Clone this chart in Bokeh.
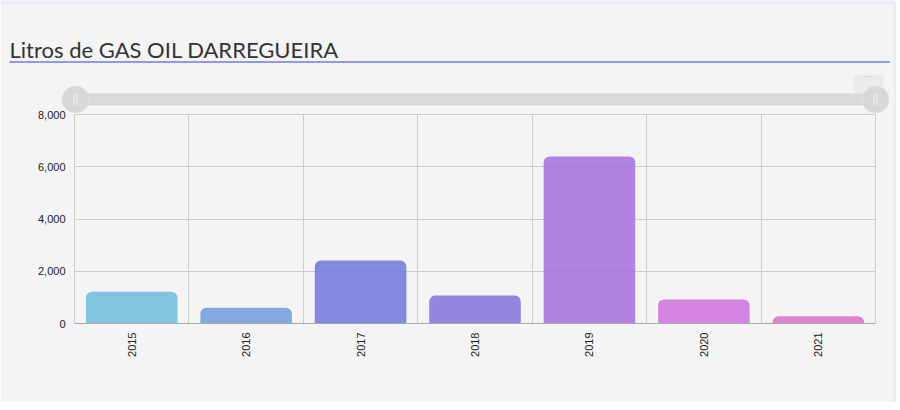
import math
from bokeh.plotting import figure
from bokeh.models import Range1d, FixedTicker, NumeralTickFormatter, ColumnDataSource
from bokeh.core.properties import value
from bokeh.embed import file_html
from bokeh.resources import INLINE

title_text = "Litros de GAS OIL DARREGUEIRA"
years = ["2015", "2016", "2017", "2018", "2019", "2020", "2021"]
litros = [1220, 600, 2410, 1070, 6390, 920, 280]
bar_colors = ["#6ebade", "#709bdc", "#6e76dc", "#8471dc", "#a46fdc", "#cc6fdc", "#dc6fc8"]
y_ticks = [0, 2000, 4000, 6000, 8000]

x_pos = [i + 0.5 for i in range(len(years))]
src = ColumnDataSource(dict(x=x_pos, year=years, litros=litros, color=bar_colors))

BG = "#f4f4f4"
p = figure(width=898, height=402,
           x_range=Range1d(0, len(years)), y_range=Range1d(0, 8000),
           output_backend="svg", toolbar_location=None,
           min_border_left=74, min_border_right=23, min_border_top=114, min_border_bottom=79,
           background_fill_color=BG, border_fill_color=BG,
           outline_line_color="#cccccc")

p.vbar(x="x", top="litros", width=0.8, source=src, fill_color="color", fill_alpha=0.85,
       line_color=None, border_radius=(6, 6, 0, 0))

# axes
p.xaxis.ticker = FixedTicker(ticks=x_pos)
p.xaxis.major_label_overrides = dict(zip(x_pos, years))
p.xaxis.major_label_orientation = math.pi / 2
p.xaxis.major_tick_line_color = None
p.xaxis.minor_tick_line_color = None
p.xaxis.major_tick_out = 0
p.xaxis.major_label_standoff = 9
p.xaxis.axis_line_color = "#aaaaaa"
p.xaxis.major_label_text_font = "Liberation Sans"
p.xaxis.major_label_text_font_size = "11px"
p.xaxis.major_label_text_color = "#222222"

p.yaxis.ticker = FixedTicker(ticks=y_ticks)
p.yaxis.formatter = NumeralTickFormatter(format="0,0")
p.yaxis.major_tick_line_color = None
p.yaxis.minor_tick_line_color = None
p.yaxis.major_tick_out = 0
p.yaxis.major_label_standoff = 9
p.yaxis.axis_line_color = None
p.yaxis.major_label_text_font = "Liberation Sans"
p.yaxis.major_label_text_font_size = "11px"
p.yaxis.major_label_text_color = "#222222"

p.xgrid.ticker = FixedTicker(ticks=list(range(1, len(years))))
p.xgrid.grid_line_color = "#cccccc"
p.ygrid.grid_line_color = "#cccccc"

# header decorations in page-pixel coordinates
p.extra_x_ranges = {"px": Range1d(74, 875)}
p.extra_y_ranges = {"px": Range1d(323, 114)}
kw = dict(x_range_name="px", y_range_name="px")

rs = []
rs.append(p.quad(left=[0], right=[898], top=[0], bottom=[3.5], fill_color="#e9edf3", line_color=None, **kw))
rs.append(p.quad(left=[895], right=[898], top=[0], bottom=[402], fill_color="#f9f9f9", line_color=None, **kw))
rs.append(p.segment(x0=[894.5], y0=[3], x1=[894.5], y1=[402], line_color="#e2e2e2", line_width=1, **kw))
rs.append(p.segment(x0=[9], y0=[61.5], x1=[889], y1=[61.5], line_color="#8f99e8", line_width=2, **kw))
rs.append(p.quad(left=[853], right=[883], top=[74], bottom=[99], fill_color="#ebebeb", line_color=None, **kw))
rs.append(p.quad(left=[75], right=[875], top=[93], bottom=[105], fill_color="#d9d9d9", line_color=None, **kw))
rs.append(p.scatter(x=[75, 875], y=[99, 99], size=27, marker="circle", fill_color="#d7d7d7",
                    line_color="#e4e4e4", line_width=1, **kw))
rs.append(p.segment(x0=[73.5, 76.5, 873.5, 876.5], y0=[93, 93, 93, 93],
                    x1=[73.5, 76.5, 873.5, 876.5], y1=[105, 105, 105, 105],
                    line_color="#f2f2f2", line_width=1, **kw))
rs.append(p.text(x=[9], y=[49], text=[title_text], text_font=value("Lato"), text_font_size="22px",
                 text_color="#333333", text_baseline="alphabetic", text_align="left", **kw))
rs.append(p.text(x=[868], y=[74], text=["..."], text_font=value("Liberation Sans"), text_font_size="8px",
                 text_color="#8fb0d8", text_align="center", text_baseline="alphabetic", **kw))
for r in rs:
    r.level = "overlay"

open("out.html", "w").write(file_html(p, INLINE))
